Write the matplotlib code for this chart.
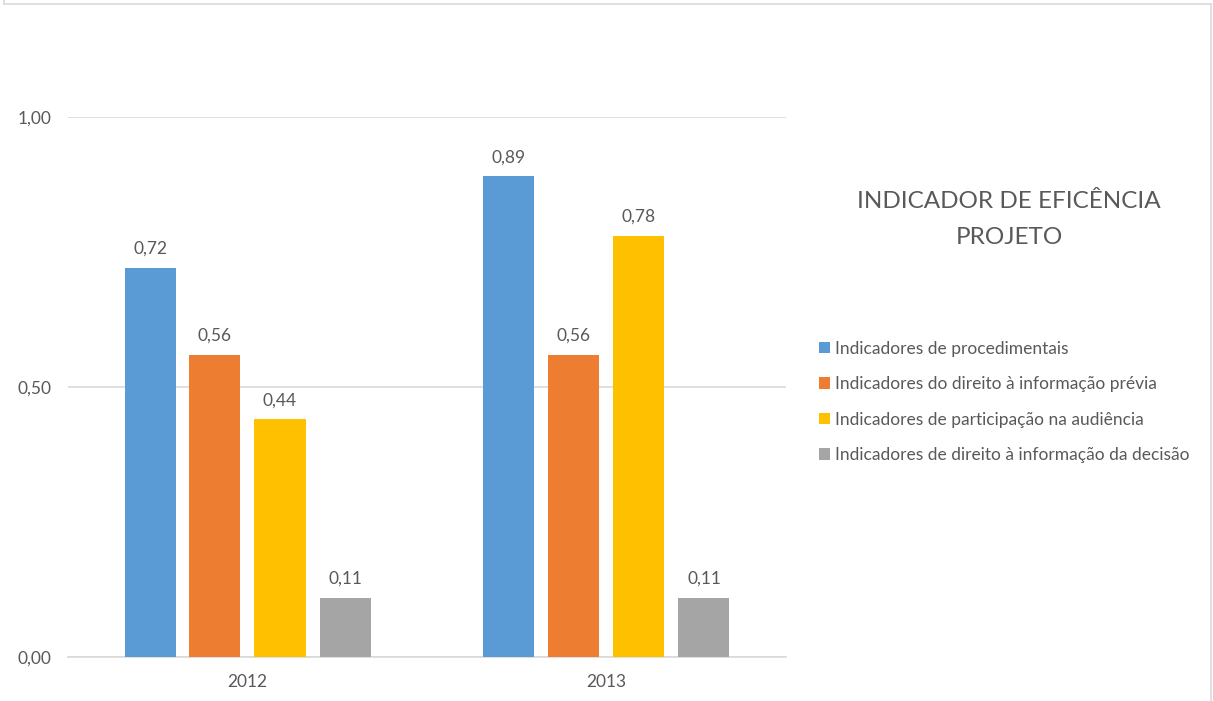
import numpy as np
import matplotlib.pyplot as plt
from matplotlib.patches import Patch
from matplotlib.lines import Line2D

years = ["2012", "2013"]
series_names = [
    "Indicadores de procedimentais",
    "Indicadores do direito à informação prévia",
    "Indicadores de participação na audiência",
    "Indicadores de direito à informação da decisão",
]
procedimentais = [0.72, 0.89]
informacao_previa = [0.56, 0.56]
participacao = [0.44, 0.78]
informacao_decisao = [0.11, 0.11]
yticks = [0.0, 0.5, 1.0]
title_lines = ["INDICADOR DE EFICÊNCIA", "PROJETO"]

colors = ["#5B9BD5", "#ED7D31", "#FFC000", "#A5A5A5"]
text_color = "#595959"
grid_color = "#D9D9D9"

plt.rcParams['font.family'] = ['Lato', 'DejaVu Sans']

W, H = 1213, 701
fig = plt.figure(figsize=(W / 100, H / 100), dpi=100)
ax = fig.add_axes([68 / W, 1 - 657 / H, (786 - 68) / W, (657 - 117) / H])

values = [procedimentais, informacao_previa, participacao, informacao_decisao]
x = np.arange(len(years))
width = 51 / 359
step = 65 / 359
for i, (vals, c) in enumerate(zip(values, colors)):
    pos = x + (i - 1.5) * step
    bars = ax.bar(pos, vals, width=width, color=c, zorder=3)
    for b, v in zip(bars, vals):
        ax.annotate(f"{v:.2f}".replace(".", ","), (b.get_x() + b.get_width() / 2, v),
                    xytext=(0, 8), textcoords="offset points", ha="center", va="bottom",
                    fontsize=12.5, color=text_color, annotation_clip=False)

ax.set_xlim(-0.5, 1.5)
ax.set_ylim(0, 1.0)
ax.set_yticks(yticks)
ax.set_yticklabels([f"{t:.2f}".replace(".", ",") for t in yticks])
ax.set_xticks(x)
ax.set_xticklabels(years)
ax.tick_params(axis="both", length=0, labelsize=12.5, colors=text_color)
ax.tick_params(axis="y", pad=12)
ax.tick_params(axis="x", pad=12)
ax.grid(axis="y", color=grid_color, linewidth=1.2, zorder=0)
for s in ["top", "right", "left"]:
    ax.spines[s].set_visible(False)
ax.spines["bottom"].set_color(grid_color)
ax.spines["bottom"].set_linewidth(1.2)

# title, two lines placed separately
for line, yy in zip(title_lines, [202, 238]):
    fig.text(1009 / W, 1 - yy / H, line, ha="center", va="center",
             fontsize=17.5, color=text_color)

handles = [Patch(facecolor=c, edgecolor="none") for c in colors]
fig.legend(handles, series_names, loc="upper left", bbox_to_anchor=(810 / W, 1 - 332 / H),
           frameon=False, fontsize=12.5, labelcolor=text_color, handlelength=0.65,
           handleheight=0.65, handletextpad=0.3, labelspacing=1.12, borderpad=0)

# outer frame (bottom edge is cut off in the original)
for xs, ys in [((4, 4), (0, 4)), ((4, 1211), (4, 4)), ((1211, 1211), (4, 701))]:
    fig.add_artist(Line2D([xx / W for xx in xs], [1 - yy / H for yy in ys],
                          transform=fig.transFigure, color=grid_color, linewidth=1.2))

fig.savefig("out.png", dpi=100)
